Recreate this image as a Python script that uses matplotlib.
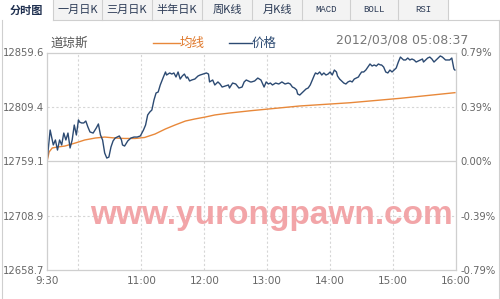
import matplotlib
matplotlib.use("Agg")
import matplotlib.pyplot as plt
from matplotlib.patches import Rectangle
from matplotlib.lines import Line2D

plt.rcParams['font.family'] = ['Noto Sans CJK SC', 'DejaVu Sans']

# 分时数据 (距 9:30 的分钟数, 价格)
price_min = [0, 3, 6, 8, 10, 12, 14, 16, 18, 20, 22, 24, 26, 28, 30, 31, 33, 35, 37, 39,
             41, 44, 47, 49, 51, 53, 55, 57, 59, 61, 63, 65, 67, 69, 71, 72, 74, 77, 80, 83,
             86, 89, 92, 94, 96, 98, 100, 102, 104, 106, 108, 111, 113, 114, 117, 119, 121, 123, 125, 127,
             129, 131, 133, 134, 136, 138, 141, 144, 146, 149, 152, 154, 155, 158, 160, 163, 165, 167, 170, 173,
             174, 177, 180, 183, 186, 188, 190, 194, 195, 198, 201, 204, 207, 209, 211, 213, 215, 218, 221, 224,
             227, 230, 232, 234, 236, 238, 239, 241, 243, 245, 247, 249, 251, 253, 255, 256, 258, 260, 262, 264,
             266, 268, 270, 272, 274, 276, 277, 279, 281, 283, 285, 287, 289, 291, 293, 295, 297, 298, 300, 302,
             304, 306, 308, 310, 312, 314, 316, 318, 319, 321, 323, 325, 327, 329, 331, 333, 335, 337, 338, 340,
             342, 344, 346, 348, 350, 352, 354, 356, 358, 359, 361, 363, 365, 367, 369, 371, 373, 375, 377, 380,
             382, 384, 386, 388, 389]
price = [12758.6, 12788.0, 12774.2, 12778.8, 12769.5, 12778.8, 12774.2, 12785.2, 12778.8, 12785.2,
         12771.4, 12778.8, 12792.6, 12783.4, 12797.3, 12795.4, 12794.5, 12794.5, 12796.3, 12790.8,
         12786.2, 12785.2, 12789.9, 12793.6, 12783.4, 12778.8, 12766.8, 12762.1, 12763.0, 12772.3,
         12777.9, 12780.6, 12781.5, 12782.5, 12778.8, 12774.2, 12773.2, 12777.9, 12780.6, 12781.5,
         12781.5, 12782.5, 12788.0, 12792.6, 12801.9, 12804.6, 12806.5, 12815.7, 12822.2, 12823.1,
         12829.6, 12837.0, 12841.6, 12838.8, 12840.7, 12839.7, 12840.7, 12837.0, 12841.6, 12835.1,
         12837.9, 12839.7, 12836.0, 12837.0, 12833.3, 12834.2, 12835.1, 12837.9, 12838.8, 12839.7,
         12840.7, 12839.7, 12832.4, 12834.2, 12829.6, 12832.4, 12830.5, 12827.7, 12828.7, 12829.6,
         12826.8, 12831.4, 12830.5, 12826.8, 12827.7, 12832.4, 12834.2, 12832.4, 12832.4, 12833.3,
         12836.0, 12834.2, 12827.7, 12832.4, 12830.5, 12831.4, 12829.6, 12831.4, 12830.5, 12832.4,
         12830.5, 12831.4, 12830.5, 12827.7, 12826.8, 12825.0, 12821.3, 12820.3, 12822.2, 12824.0,
         12825.9, 12826.8, 12829.6, 12834.2, 12838.8, 12840.7, 12839.7, 12841.6, 12838.8, 12840.7,
         12838.8, 12839.7, 12841.6, 12838.8, 12843.4, 12841.6, 12837.9, 12835.1, 12833.3, 12831.4,
         12830.5, 12832.4, 12833.3, 12832.4, 12835.1, 12836.0, 12837.0, 12838.8, 12841.6, 12841.6,
         12843.4, 12846.2, 12849.0, 12847.1, 12848.1, 12847.1, 12849.0, 12848.1, 12848.1, 12846.2,
         12841.6, 12840.7, 12843.4, 12841.6, 12843.4, 12845.3, 12850.8, 12855.4, 12854.5, 12852.7,
         12852.7, 12854.5, 12852.7, 12853.6, 12852.7, 12850.8, 12851.7, 12852.7, 12853.6, 12850.8,
         12852.7, 12854.5, 12855.4, 12853.6, 12850.8, 12852.7, 12854.5, 12856.4, 12855.4, 12852.7,
         12852.7, 12852.7, 12854.5, 12844.4, 12843.4]

# 均线
avg_min = [0, 2, 5, 10, 17, 27, 36, 46, 55, 65, 74, 84, 93, 103, 113, 122, 132, 141, 151, 160,
           174, 194, 241, 289, 337, 389]
avg = [12758.6, 12767.7, 12771.4, 12772.3, 12773.2, 12776.0, 12778.8, 12780.6, 12781.5, 12780.6,
       12780.2, 12780.2, 12781.1, 12784.3, 12789.0, 12792.6, 12796.3, 12798.2, 12800.0, 12801.9,
       12803.7, 12805.8, 12810.2, 12813.2, 12817.3, 12822.5]

y_ticks = [12658.7, 12708.9, 12759.1, 12809.4, 12859.6]
pct_labels = ["-0.79%", "-0.39%", "0.00%", "0.39%", "0.79%"]
x_ticks = [0, 90, 150, 210, 270, 330, 390]
x_labels = ["9:30", "11:00", "12:00", "13:00", "14:00", "15:00", "16:00"]
grid_min = [30, 90, 150, 210, 270, 330]

tabs = ["分时图", "一月日K", "三月日K", "半年日K", "周K线", "月K线", "MACD", "BOLL", "RSI"]
tab_edges = [0, 53, 102, 152, 202, 252, 302, 350, 398, 448]

W, H = 500, 299
fig = plt.figure(figsize=(W / 100, H / 100), dpi=100)


def fx(px):
    return px / W


def fy(py):
    return 1 - py / H


# --- 顶部标签栏 ---
border = "#cfcfcf"
for i, name in enumerate(tabs):
    x0, x1 = tab_edges[i], tab_edges[i + 1]
    face = "white" if i == 0 else "#f3f3f3"
    fig.add_artist(Rectangle((fx(x0), fy(20)), fx(x1 - x0), fy(0) - fy(20),
                             transform=fig.transFigure, facecolor=face, edgecolor="none"))
    if i > 0:
        fig.add_artist(Line2D([fx(x0), fx(x0)], [fy(0), fy(20)], color=border, lw=0.8))
    if name in ("MACD", "BOLL", "RSI"):
        fig.text(fx((x0 + x1) / 2), fy(10), name, ha="center", va="center", fontsize=6.5,
                 family="Liberation Mono", color="#2b3a55")
    else:
        fig.text(fx((x0 + x1) / 2), fy(10), name, ha="center", va="center", fontsize=8,
                 color="#1f2f4f" if i == 0 else "#2b3a55",
                 fontweight="bold" if i == 0 else "normal")
fig.add_artist(Line2D([fx(448), fx(448)], [fy(0), fy(20)], color=border, lw=0.8))
fig.add_artist(Line2D([fx(53), fx(500)], [fy(20), fy(20)], color=border, lw=0.8))
fig.add_artist(Line2D([fx(1.5), fx(1.5)], [fy(20), fy(299)], color=border, lw=0.8))
fig.add_artist(Line2D([fx(499), fx(499)], [fy(20), fy(299)], color=border, lw=0.8))

# --- 标题与图例 ---
fig.text(fx(50), fy(43), "道琼斯", ha="left", va="center", fontsize=9, color="#555555")
fig.add_artist(Line2D([fx(153), fx(180)], [fy(43), fy(43)], color="#e8883a", lw=1))
fig.text(fx(180), fy(43), "均线", ha="left", va="center", fontsize=9, color="#e0782a")
fig.add_artist(Line2D([fx(229), fx(252)], [fy(43), fy(43)], color="#2c4a72", lw=1))
fig.text(fx(252), fy(43), "价格", ha="left", va="center", fontsize=9, color="#2c4a72")
fig.text(fx(336), fy(40), "2012/03/08 05:08:37", ha="left", va="center", fontsize=9,
         family="DejaVu Sans", color="#777777")

# --- 主图 ---
ax = fig.add_axes([fx(47), fy(270), fx(409), fy(52.5) - fy(270)])
ax.set_xlim(0, 390)
ax.set_ylim(y_ticks[0], y_ticks[-1])

for m in grid_min:
    ax.axvline(m, color="#d6d6d6", lw=0.8, ls=(0, (2, 2)))
ax.axhline(y_ticks[1], color="#d6d6d6", lw=0.8, ls=(0, (2, 2)))
ax.axhline(y_ticks[3], color="#d6d6d6", lw=0.8, ls=(0, (2, 2)))
ax.axhline(y_ticks[2], color="#cfcfcf", lw=0.9)

ax.text(0.55, 0.25, "www.yurongpawn.com", transform=ax.transAxes, ha="center", va="center",
        fontsize=24, fontweight="bold", family="Liberation Sans", color="#f2a5a8")

ax.plot(avg_min, avg, color="#e8883a", lw=1)
ax.plot(price_min, price, color="#2c4a72", lw=1)

for s in ax.spines.values():
    s.set_color(border)
    s.set_linewidth(0.9)

ax.set_yticks(y_ticks)
ax.set_yticklabels([f"{v:.1f}" for v in y_ticks], family="DejaVu Sans")
ax.set_xticks(x_ticks)
ax.set_xticklabels(x_labels, family="DejaVu Sans")
ax.tick_params(axis="y", length=0, pad=2, labelsize=7.2, labelcolor="#666666")
ax.tick_params(axis="x", length=0, pad=4, labelsize=7.5, labelcolor="#666666")

ax2 = ax.twinx()
ax2.set_ylim(ax.get_ylim())
ax2.set_yticks(y_ticks)
ax2.set_yticklabels(pct_labels, family="DejaVu Sans")
ax2.tick_params(axis="y", length=0, pad=3, labelsize=7.2, labelcolor="#666666")
for s in ax2.spines.values():
    s.set_visible(False)

fig.savefig("out.png", dpi=100)
